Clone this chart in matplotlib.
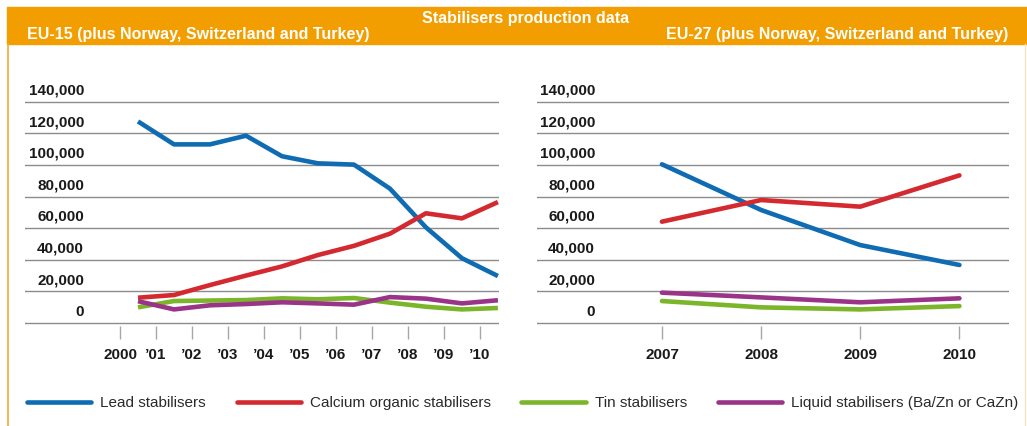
import matplotlib.pyplot as plt
import numpy as np
from matplotlib.patches import Rectangle
from matplotlib.lines import Line2D

plt.rcParams['font.family'] = ['Liberation Sans', 'DejaVu Sans']

# EU-15 (plus Norway, Switzerland and Turkey), tonnes
years_eu15 = [2000, 2001, 2002, 2003, 2004, 2005, 2006, 2007, 2008, 2009, 2010]
year_labels_eu15 = ['2000', '\u201901', '\u201902', '\u201903', '\u201904', '\u201905',
                    '\u201906', '\u201907', '\u201908', '\u201909', '\u201910']
lead_eu15 = [127500, 113000, 113000, 118500, 105500, 101000, 100200, 85000, 60500, 41000, 29700]
calcium_eu15 = [16000, 17700, 24000, 30000, 35800, 43000, 48800, 56500, 69400, 66200, 76500]
tin_eu15 = [9900, 13900, 14200, 14500, 15600, 15000, 15800, 12900, 10300, 8600, 9500]
liquid_eu15 = [13800, 8600, 11200, 12000, 13100, 12400, 11600, 16400, 15400, 12400, 14400]

# EU-27 (plus Norway, Switzerland and Turkey), tonnes
years_eu27 = [2007, 2008, 2009, 2010]
lead_eu27 = [100400, 71500, 49300, 36700]
calcium_eu27 = [64100, 77800, 73600, 93400]
tin_eu27 = [13900, 9900, 8600, 10700]
liquid_eu27 = [19200, 16200, 13100, 15600]

series_names = ['Lead stabilisers', 'Calcium organic stabilisers', 'Tin stabilisers',
                'Liquid stabilisers (Ba/Zn or CaZn)']
colors = ['#0f6cb3', '#d4292f', '#7ab52a', '#9a3488']
y_ticks = [0, 20000, 40000, 60000, 80000, 100000, 120000, 140000]

W, H = 1027, 426
fig = plt.figure(figsize=(W / 100, H / 100), dpi=100)

# header band
fig.patches.append(Rectangle((7 / W, 1 - 44 / H), 1 - 7 / W, 37 / H,
                             transform=fig.transFigure, color='#f39e00', zorder=0))
fig.add_artist(Line2D([7.5 / W, 7.5 / W], [0, 1 - 44 / H], transform=fig.transFigure,
                      color='#f3a93a', lw=1.2))
fig.add_artist(Line2D([1025 / W, 1025 / W], [0, 1 - 44 / H], transform=fig.transFigure,
                      color='#fbe2c0', lw=1))
fig.text(526 / W, 1 - 18.5 / H, 'Stabilisers production data', color='white',
         fontsize=11.5, fontweight='bold', ha='center', va='center')
fig.text(27 / W, 1 - 35 / H, 'EU-15 (plus Norway, Switzerland and Turkey)', color='white',
         fontsize=11.5, fontweight='bold', ha='left', va='center')
fig.text(1008 / W, 1 - 35 / H, 'EU-27 (plus Norway, Switzerland and Turkey)', color='white',
         fontsize=11.5, fontweight='bold', ha='right', va='center')

ybot, ytop = 326, 98.7
unit = 140000 / (323 - 101.7)
ylim = (-(ybot - 323) * unit, 140000 + (101.7 - ytop) * unit)


def setup(ax, xlim, ticks, labels, label_x):
    ax.set_xlim(*xlim)
    ax.set_ylim(*ylim)
    for s in ax.spines.values():
        s.set_visible(False)
    ax.set_yticks(y_ticks)
    ax.yaxis.grid(True, color='#8c8c8c', lw=1)
    ax.set_axisbelow(True)
    ax.tick_params(axis='y', length=0, labelleft=False)
    ax.set_xticks(ticks)
    ax.set_xticklabels(labels, fontsize=11, fontweight='bold', color='#1a1a1a')
    ax.tick_params(axis='x', length=9, width=1, color='#a6a6a6', pad=7)
    for v in y_ticks:
        ax.annotate(f'{v:,}', xy=(label_x, v), xycoords=('axes fraction', 'data'),
                    xytext=(0, 3), textcoords='offset points', ha='right', va='bottom',
                    fontsize=11, fontweight='bold', color='#1a1a1a')


ax1 = fig.add_axes([25 / W, 1 - ybot / H, 474 / W, (ybot - ytop) / H])
setup(ax1, (1997.36, 2010.53), years_eu15, year_labels_eu15, (84 - 25) / 474)
x15 = np.array(years_eu15) + 0.5
for vals, c in zip([lead_eu15, calcium_eu15, tin_eu15, liquid_eu15], colors):
    ax1.plot(x15, vals, color=c, lw=3.3, solid_capstyle='butt', solid_joinstyle='round')

ax2 = fig.add_axes([537 / W, 1 - ybot / H, 472 / W, (ybot - ytop) / H])
setup(ax2, (2005.74, 2010.5), years_eu27, [str(y) for y in years_eu27], (595 - 537) / 472)
for vals, c in zip([lead_eu27, calcium_eu27, tin_eu27, liquid_eu27], colors):
    ax2.plot(years_eu27, vals, color=c, lw=3.3, solid_capstyle='round', solid_joinstyle='round')

handles = [Line2D([], [], color=c, lw=3.3, solid_capstyle='round') for c in colors]
fig.legend(handles, series_names, loc='center left', bbox_to_anchor=(27 / W, 1 - 403 / H),
           ncol=4, frameon=False, fontsize=11, handlelength=4.2, handletextpad=0.6,
           columnspacing=2.0, borderpad=0, borderaxespad=0, labelcolor='#2a2a2a')

fig.savefig('out.png', dpi=100)
